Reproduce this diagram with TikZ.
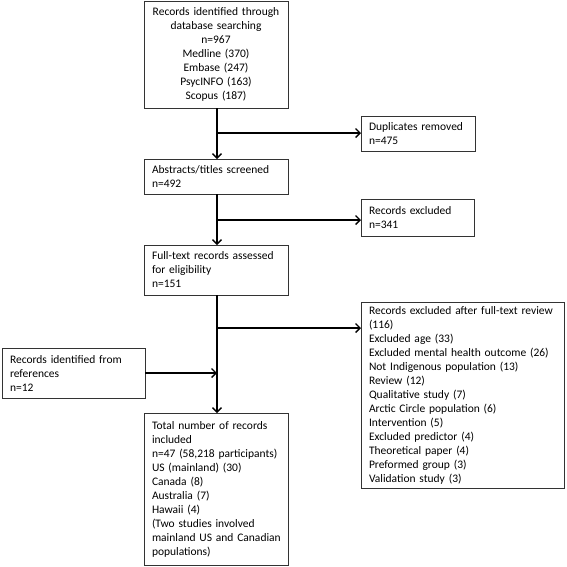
\documentclass[tikz,border=0pt]{standalone}
\usepackage{fontspec}
\setmainfont{Carlito}
\usetikzlibrary{arrows.meta}
\begin{document}
\begin{tikzpicture}[x=1pt,y=-1pt,
  fbox/.style={draw=black!80, line width=0.8pt, inner xsep=8pt, inner ysep=0pt, outer sep=0pt,
    font=\fontsize{11.5}{14}\selectfont, anchor=north west, align=left},
  conn/.style={line width=1.4pt},
  arr/.style={conn, -{Straight Barb[length=4.5pt,width=9pt]}}]
\useasboundingbox (0,0) rectangle (567,566);

\node[fbox, text width=128pt, minimum height=107pt, align=center] (db) at (144,1)
  {Records identified through\\database searching\\n=967\\Medline (370)\\Embase (247)\\PsycINFO (163)\\Scopus (187)};
\node[fbox, text width=98pt, minimum height=35pt] (dup) at (361,116)
  {Duplicates removed\\n=475};
\node[fbox, text width=128pt, minimum height=35pt] (abs) at (144,159)
  {Abstracts/titles screened\\n=492};
\node[fbox, text width=97pt, minimum height=37pt] (excl) at (361,199)
  {Records excluded\\n=341};
\node[fbox, text width=128pt, minimum height=50pt] (full) at (144,245)
  {Full-text records assessed\\for eligibility\\n=151};
\node[fbox, text width=187pt, minimum height=186pt] (excl2) at (361,302)
  {Records excluded after full-text review\\(116)\\Excluded age (33)\\Excluded mental health outcome (26)\\Not Indigenous population (13)\\Review (12)\\Qualitative study (7)\\Arctic Circle population (6)\\Intervention (5)\\Excluded predictor (4)\\Theoretical paper (4)\\Preformed group (3)\\Validation study (3)};
\node[fbox, text width=127pt, minimum height=50pt] (refs) at (2,348)
  {Records identified from\\references\\n=12};
\node[fbox, text width=128pt, minimum height=152pt] (total) at (144,413)
  {Total number of records\\included\\\mbox{n=47 (58,218 participants)}\\US (mainland) (30)\\Canada (8)\\Australia (7)\\Hawaii (4)\\(Two studies involved\\\mbox{mainland US and Canadian}\\populations)};

\coordinate (j1) at (217,133);
\coordinate (j2) at (217,220);
\coordinate (j3) at (217,328);
\draw[arr] (db.south -| j1) -- (abs.north -| j1);
\draw[arr] (j1) -- (dup.west |- j1);
\draw[arr] (abs.south -| j2) -- (full.north -| j2);
\draw[arr] (j2) -- (excl.west |- j2);
\draw[arr] (full.south -| j3) -- (total.north -| j3);
\draw[arr] (j3) -- (excl2.west |- j3);
\draw[arr] (refs.east) -- (refs.east -| j3);
\end{tikzpicture}
\end{document}
